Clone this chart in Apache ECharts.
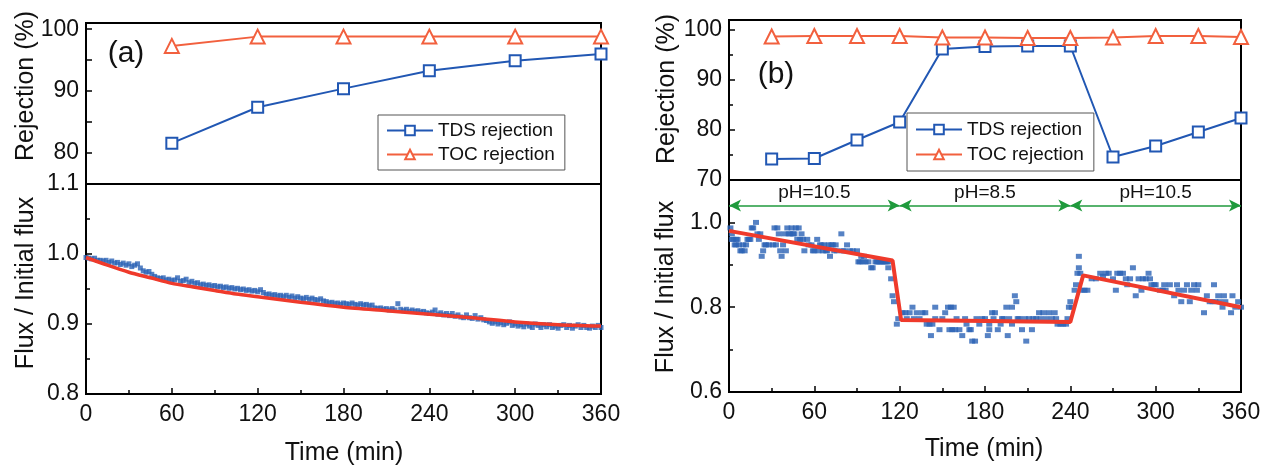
<!DOCTYPE html>
<html>
<head>
<meta charset="utf-8">
<script src="https://cdn.jsdelivr.net/npm/echarts@6/dist/echarts.min.js"></script>
<style>
html,body{margin:0;padding:0;background:#fff;}
#c{width:1271px;height:474px;}
</style>
</head>
<body>
<div id="c"></div>
<script>
// ---------- Data ----------
const timeRejA = [60, 120, 180, 240, 300, 360];
const tdsRejA = [81.6, 87.4, 90.4, 93.3, 94.9, 96.0];
const tocRejA = [97.3, 98.8, 98.8, 98.8, 98.8, 98.8];

const timeRejB = [30, 60, 90, 120, 150, 180, 210, 240, 270, 300, 330, 360];
const tdsRejB = [74.2, 74.3, 78.0, 81.6, 96.2, 96.7, 96.8, 96.8, 74.6, 76.8, 79.6, 82.4];
const tocRejB = [98.7, 98.8, 98.8, 98.8, 98.5, 98.5, 98.4, 98.4, 98.5, 98.8, 98.8, 98.6];

const fluxA = [
[0,0.995],[2,0.994],[4,0.993],[6,0.994],[8,0.991],[10,0.991],[12,0.990],[14,0.991],[16,0.988],[18,0.990],
[20,0.987],[22,0.988],[24,0.985],[26,0.987],[28,0.984],[30,0.986],[32,0.982],[34,0.984],[36,0.986],[38,0.980],
[40,0.976],[42,0.974],[44,0.975],[46,0.971],[48,0.968],[50,0.966],[52,0.965],[54,0.966],[56,0.963],[58,0.964],
[60,0.962],[62,0.963],[64,0.966],[66,0.961],[68,0.962],[70,0.964],[72,0.959],[74,0.961],[76,0.958],[78,0.959],
[80,0.956],[82,0.957],[84,0.955],[86,0.956],[88,0.954],[90,0.955],[92,0.953],[94,0.954],[96,0.952],[98,0.953],
[100,0.951],[102,0.952],[104,0.950],[106,0.951],[108,0.949],[110,0.950],[112,0.948],[114,0.949],[116,0.947],[118,0.948],
[120,0.946],[122,0.949],[124,0.945],[126,0.942],[128,0.943],[130,0.941],[132,0.942],[134,0.940],[136,0.941],[138,0.939],
[140,0.941],[142,0.938],[144,0.940],[146,0.937],[148,0.939],[150,0.937],[152,0.936],[154,0.938],[156,0.935],[158,0.937],
[160,0.935],[162,0.934],[164,0.936],[166,0.933],[168,0.932],[170,0.930],[172,0.931],[174,0.929],[176,0.930],[178,0.928],
[180,0.930],[182,0.929],[184,0.928],[186,0.930],[188,0.928],[190,0.927],[192,0.929],[194,0.927],[196,0.928],[198,0.926],
[200,0.927],[202,0.923],[204,0.922],[206,0.923],[208,0.921],[210,0.922],[212,0.920],[214,0.922],[216,0.920],[218,0.929],
[220,0.921],[222,0.919],[224,0.921],[226,0.918],[228,0.920],[230,0.918],[232,0.919],[234,0.917],[236,0.918],[238,0.916],
[240,0.915],[242,0.917],[244,0.920],[246,0.914],[248,0.916],[250,0.913],[252,0.915],[254,0.912],[256,0.915],[258,0.911],
[260,0.913],[262,0.910],[264,0.909],[266,0.913],[268,0.909],[270,0.908],[272,0.912],[274,0.907],[276,0.909],[278,0.906],
[280,0.905],[282,0.903],[284,0.901],[286,0.903],[288,0.900],[290,0.902],[292,0.899],[294,0.901],[296,0.903],[298,0.898],
[300,0.900],[302,0.897],[304,0.899],[306,0.896],[308,0.900],[310,0.897],[312,0.895],[314,0.900],[316,0.898],[318,0.895],
[320,0.899],[322,0.896],[324,0.899],[326,0.895],[328,0.897],[330,0.894],[332,0.898],[334,0.899],[336,0.895],[338,0.898],
[340,0.894],[342,0.897],[344,0.899],[346,0.895],[348,0.898],[350,0.895],[352,0.894],[354,0.897],[356,0.895],[358,0.898],[360,0.895]
];
const fitA = [
[0,0.995],[15,0.984],[30,0.974],[45,0.966],[60,0.958],[75,0.953],[90,0.948],[105,0.943],[120,0.939],
[150,0.931],[180,0.924],[210,0.919],[240,0.914],[270,0.909],[300,0.903],[330,0.899],[360,0.897]
];

const fluxB = [
[1,0.987],[2,0.973],[2,0.960],[3,0.960],[4,0.947],[5,0.960],[5,0.947],[6,0.960],[7,0.947],[8,0.933],[9,0.933],
[10,0.947],[11,0.933],[12,0.947],[13,0.960],[14,0.960],[15,0.960],[16,0.987],[17,0.987],[19,1.000],[20,0.973],
[21,0.960],[22,0.973],[23,0.920],[24,0.933],[25,0.947],[26,0.947],[28,0.947],[31,0.947],[32,0.987],[33,0.947],
[34,0.987],[35,0.973],[36,0.933],[37,0.920],[38,0.947],[39,0.973],[40,0.933],[41,0.987],[42,0.973],[43,0.973],
[44,0.987],[45,0.973],[46,0.973],[47,0.987],[48,0.960],[49,0.987],[50,0.960],[51,0.973],[52,0.960],[53,0.933],
[55,0.960],[56,0.947],[58,0.947],[59,0.933],[60,0.933],[62,0.960],[63,0.933],[64,0.947],[65,0.947],[66,0.933],
[67,0.947],[68,0.933],[69,0.933],[70,0.947],[71,0.920],[72,0.947],[73,0.947],[74,0.933],[75,0.947],[76,0.933],
[79,0.973],[80,0.933],[81,0.933],[83,0.947],[85,0.933],[87,0.933],[90,0.933],[91,0.907],[92,0.907],[93,0.920],
[94,0.907],[95,0.920],[96,0.907],[98,0.907],[100,0.893],[101,0.893],[103,0.907],[104,0.907],[105,0.907],[106,0.907],
[107,0.907],[108,0.907],[109,0.907],[110,0.907],[111,0.907],[112,0.893],[113,0.907],[114,0.867],[115,0.827],
[116,0.813],[118,0.760],[119,0.773],
[122,0.787],[124,0.787],[125,0.773],[127,0.787],[129,0.800],[130,0.773],[132,0.787],[134,0.773],[136,0.787],[138,0.787],
[139,0.760],[141,0.760],[142,0.733],[143,0.760],[145,0.773],[145,0.800],[148,0.747],[150,0.773],[152,0.787],[154,0.800],
[155,0.747],[156,0.800],[157,0.747],[158,0.800],[159,0.747],[160,0.773],[162,0.747],[164,0.733],[166,0.773],[167,0.760],
[169,0.747],[170,0.747],[171,0.720],[173,0.720],[174,0.773],[176,0.760],[178,0.773],[180,0.773],[182,0.733],[183,0.747],
[183,0.760],[185,0.787],[186,0.773],[187,0.787],[189,0.747],[191,0.760],[192,0.773],[193,0.773],[195,0.800],[196,0.733],
[197,0.773],[199,0.800],[199,0.760],[201,0.827],[202,0.813],[203,0.773],[204,0.773],[206,0.747],[208,0.773],[209,0.720],
[211,0.773],[213,0.747],[214,0.773],[216,0.773],[218,0.787],[219,0.773],[221,0.787],[223,0.773],[225,0.787],[227,0.773],
[229,0.787],[230,0.773],[231,0.760],[233,0.760],[235,0.760],[237,0.760],[238,0.773],[239,0.800],[240,0.813],
[241,0.800],[243,0.840],[244,0.853],[245,0.880],[246,0.893],[246,0.920],[247,0.880],[248,0.840],[250,0.840],[252,0.840],
[255,0.867],[258,0.867],[261,0.880],[263,0.873],[265,0.880],[267,0.880],[270,0.867],[272,0.840],[273,0.880],[275,0.880],
[277,0.880],[279,0.867],[280,0.853],[282,0.867],[284,0.893],[286,0.827],[288,0.867],[290,0.840],[291,0.867],[293,0.867],
[295,0.880],[296,0.867],[297,0.853],[299,0.853],[300,0.853],[303,0.840],[305,0.840],[306,0.853],[307,0.840],[310,0.853],
[313,0.827],[315,0.853],[316,0.840],[318,0.813],[320,0.840],[322,0.853],[324,0.813],[325,0.840],[327,0.853],[329,0.840],
[330,0.853],[334,0.787],[336,0.827],[338,0.813],[340,0.813],[341,0.853],[342,0.813],[344,0.827],[345,0.813],[347,0.800],
[348,0.827],[349,0.813],[353,0.787],[354,0.827],[356,0.800],[358,0.813],[360,0.800]
];
const fitB = [[0,0.980],[115,0.910],[121,0.770],[240,0.765],[249,0.875],[360,0.800]];

const phLabels = ['pH=10.5', 'pH=8.5', 'pH=10.5'];
const phBounds = [0, 120, 240, 360];
const phLevel = 1.04;

const xTicksMax = 360;

// ---------- Styles ----------
const FONT = 'Liberation Sans, Arial, sans-serif';
const BLUE = '#2157b3';
const ORANGE = '#f2603e';
const SCAT = '#2c63b5';
const RED = '#ef3a2b';
const GREEN = '#1f9a3c';

function xAxisBottom(gi) {
  return {
    type: 'value', gridIndex: gi, min: 0, max: xTicksMax, interval: 60,
    axisLine: {show: true, onZero: false, lineStyle: {color: '#000', width: 2}},
    axisTick: {show: true, inside: true, length: 6, lineStyle: {color: '#000', width: 1.5}},
    minorTick: {show: true, splitNumber: 2, length: 4, lineStyle: {color: '#000', width: 1.5}},
    splitLine: {show: false},
    axisLabel: {show: true, fontFamily: FONT, fontSize: 23, color: '#111', margin: 9}
  };
}
function xAxisTop(gi) {
  return {
    type: 'value', gridIndex: gi, min: 0, max: xTicksMax, interval: 60,
    axisLine: {show: true, onZero: false, lineStyle: {color: '#000', width: 2}},
    axisTick: {show: false}, splitLine: {show: false}, axisLabel: {show: false}
  };
}
function yAxis(gi, min, max, interval, fmt, minor) {
  return {
    type: 'value', gridIndex: gi, min: min, max: max, interval: interval,
    axisLine: {show: true, onZero: false, lineStyle: {color: '#000', width: 2}},
    axisTick: {show: true, inside: true, length: 6, lineStyle: {color: '#000', width: 1.5}},
    minorTick: {show: !!minor, splitNumber: 2, length: 4, lineStyle: {color: '#000', width: 1.5}},
    splitLine: {show: false},
    axisLabel: {show: true, fontFamily: FONT, fontSize: 23, color: '#111', margin: 7, formatter: fmt}
  };
}

const pairs = (xs, ys) => xs.map((x, i) => [x, ys[i]]);

const phMarkData = phLabels.map((lab, i) => [
  {coord: [phBounds[i], phLevel], name: lab},
  {coord: [phBounds[i + 1], phLevel]}
]);

const gridBase = {show: true, borderColor: '#000', borderWidth: 2, backgroundColor: 'transparent', containLabel: false};

const option = {
  backgroundColor: '#fff',
  animation: false,
  grid: [
    Object.assign({left: 86, top: 23, width: 515, height: 161}, gridBase),
    Object.assign({left: 86, top: 184, width: 515, height: 210}, gridBase),
    Object.assign({left: 729, top: 20, width: 512, height: 160}, gridBase),
    Object.assign({left: 729, top: 180, width: 512, height: 212}, gridBase)
  ],
  xAxis: [xAxisTop(0), xAxisBottom(1), xAxisTop(2), xAxisBottom(3)],
  yAxis: [
    yAxis(0, 75, 101, 5, v => (v % 10 === 0 ? String(v) : ''), false),
    yAxis(1, 0.8, 1.1, 0.1, v => v.toFixed(1), true),
    yAxis(2, 70, 102, 10, v => (v <= 100 ? String(v) : ''), true),
    yAxis(3, 0.6, 1.1, 0.2, v => (Math.round(v * 10) % 2 === 0 ? v.toFixed(1) : ''), true)
  ],
  legend: [
    {
      left: 378, top: 115, orient: 'vertical', data: ['TDS rejection', 'TOC rejection'],
      borderColor: '#555', borderWidth: 1, padding: [6, 10, 6, 8], itemGap: 5,
      itemWidth: 46, itemHeight: 12, selectedMode: false,
      textStyle: {fontFamily: FONT, fontSize: 19, color: '#111'}
    },
    {
      left: 907, top: 113, orient: 'vertical', data: ['TDS rejection', 'TOC rejection'],
      borderColor: '#555', borderWidth: 1, padding: [7, 10, 7, 8], itemGap: 6,
      itemWidth: 46, itemHeight: 12, selectedMode: false,
      textStyle: {fontFamily: FONT, fontSize: 19, color: '#111'}
    }
  ],
  graphic: [
    {type: 'text', x: 26, y: 86, rotation: Math.PI / 2, style: {text: 'Rejection (%)', font: '25px ' + FONT, fill: '#111', align: 'center', verticalAlign: 'middle'}},
    {type: 'text', x: 26, y: 283, rotation: Math.PI / 2, style: {text: 'Flux / Initial flux', font: '25px ' + FONT, fill: '#111', align: 'center', verticalAlign: 'middle'}},
    {type: 'text', x: 344, y: 453, style: {text: 'Time (min)', font: '25px ' + FONT, fill: '#111', align: 'center', verticalAlign: 'middle'}},
    {type: 'text', x: 667, y: 89, rotation: Math.PI / 2, style: {text: 'Rejection (%)', font: '25px ' + FONT, fill: '#111', align: 'center', verticalAlign: 'middle'}},
    {type: 'text', x: 666, y: 287, rotation: Math.PI / 2, style: {text: 'Flux / Initial flux', font: '25px ' + FONT, fill: '#111', align: 'center', verticalAlign: 'middle'}},
    {type: 'text', x: 984, y: 449, style: {text: 'Time (min)', font: '25px ' + FONT, fill: '#111', align: 'center', verticalAlign: 'middle'}},
    {type: 'text', x: 126, y: 54, style: {text: '(a)', font: '30px ' + FONT, fill: '#111', align: 'center', verticalAlign: 'middle'}},
    {type: 'text', x: 776, y: 75, style: {text: '(b)', font: '30px ' + FONT, fill: '#111', align: 'center', verticalAlign: 'middle'}}
  ],
  series: [
    {name: 'TDS rejection', type: 'line', xAxisIndex: 0, yAxisIndex: 0, data: pairs(timeRejA, tdsRejA),
     symbol: 'emptyRect', symbolSize: 11, color: BLUE, lineStyle: {width: 2, color: BLUE}, itemStyle: {borderWidth: 1.8}, z: 3},
    {name: 'TOC rejection', type: 'line', xAxisIndex: 0, yAxisIndex: 0, data: pairs(timeRejA, tocRejA),
     symbol: 'emptyTriangle', symbolSize: 14, color: ORANGE, lineStyle: {width: 2, color: ORANGE}, itemStyle: {borderWidth: 1.8}, z: 3},
    {name: 'TDS rejection', type: 'line', xAxisIndex: 2, yAxisIndex: 2, data: pairs(timeRejB, tdsRejB),
     symbol: 'emptyRect', symbolSize: 11, color: BLUE, lineStyle: {width: 2, color: BLUE}, itemStyle: {borderWidth: 1.8}, z: 3},
    {name: 'TOC rejection', type: 'line', xAxisIndex: 2, yAxisIndex: 2, data: pairs(timeRejB, tocRejB),
     symbol: 'emptyTriangle', symbolSize: 14, color: ORANGE, lineStyle: {width: 2, color: ORANGE}, itemStyle: {borderWidth: 1.8}, z: 3},
    {name: 'Flux A', type: 'scatter', xAxisIndex: 1, yAxisIndex: 1, data: fluxA,
     symbol: 'rect', symbolSize: [5, 5], itemStyle: {color: SCAT}, z: 2},
    {name: 'Fit A', type: 'line', xAxisIndex: 1, yAxisIndex: 1, data: fitA, smooth: 0.25, showSymbol: false,
     symbol: 'none', lineStyle: {width: 3.5, color: RED}, z: 4},
    {name: 'Flux B', type: 'scatter', xAxisIndex: 3, yAxisIndex: 3, data: fluxB,
     symbol: 'rect', symbolSize: [6, 5], itemStyle: {color: SCAT}, z: 2},
    {name: 'Fit B', type: 'line', xAxisIndex: 3, yAxisIndex: 3, data: fitB, showSymbol: false,
     symbol: 'none', lineStyle: {width: 4, color: RED}, z: 4,
     markLine: {
       silent: true, symbol: ['arrow', 'arrow'], symbolSize: [9, 12], precision: 3,
       lineStyle: {color: GREEN, width: 1.5, type: 'solid'},
       label: {show: true, position: 'middle', formatter: p => p.name, fontFamily: FONT, fontSize: 19, color: '#111', distance: 3},
       emphasis: {disabled: true},
       data: phMarkData
     }}
  ]
};

const chart = echarts.init(document.getElementById('c'), null, {renderer: 'canvas'});
chart.setOption(option);
</script>
</body>
</html>
